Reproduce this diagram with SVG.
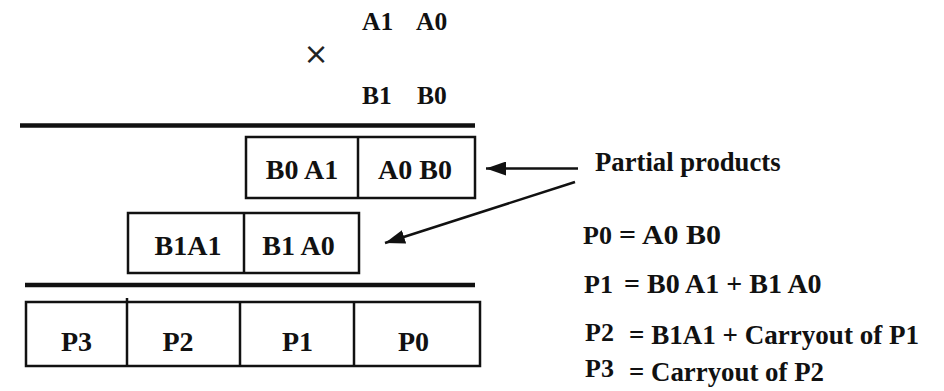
<svg xmlns="http://www.w3.org/2000/svg" width="944" height="391" viewBox="0 0 944 391">
<defs>
<style>
.t{font-family:"Liberation Serif","Times New Roman",serif;font-weight:bold;font-size:28px;fill:#111}
.op{font-size:25.5px}
.eq{font-size:27px}
.lab{font-size:26px}
.box{fill:#fff;stroke:#111;stroke-width:2.5}
.div{stroke:#111;stroke-width:2.5}
.rule{stroke:#111;stroke-width:4.5}
.conn{stroke:#111;stroke-width:2.5;fill:none}
</style>
<marker id="ah" markerUnits="userSpaceOnUse" markerWidth="22" markerHeight="14" refX="20" refY="7" orient="auto">
<path d="M0,0 L20,7 L0,14 Z" fill="#111"/>
</marker>
</defs>
<rect width="944" height="391" fill="#fff"/>
<g id="operands">
<text class="t op" x="362" y="30">A1</text>
<text class="t op" x="416" y="30">A0</text>
<text x="316" y="64" text-anchor="middle" style="font-family:'DejaVu Sans',sans-serif;font-size:30px;fill:#222">×</text>
<text class="t op" x="362" y="104">B1</text>
<text class="t op" x="417" y="104">B0</text>
</g>
<g id="rules">
<line class="rule" x1="20" y1="125.5" x2="475" y2="125.5"/>
<line class="rule" x1="25" y1="285" x2="475" y2="285"/>
</g>
<g id="row1">
<rect class="box" x="246" y="137" width="229" height="61"/>
<line class="div" x1="358" y1="137" x2="358" y2="198"/>
<text class="t" x="302" y="179" text-anchor="middle">B0 A1</text>
<text class="t" x="415" y="179" text-anchor="middle">A0 B0</text>
</g>
<g id="row2">
<rect class="box" x="128" y="213" width="231" height="60"/>
<line class="div" x1="244" y1="213" x2="244" y2="274"/>
<text class="t" x="188" y="255" text-anchor="middle">B1A1</text>
<text class="t" x="298.5" y="255" text-anchor="middle">B1 A0</text>
</g>
<g id="result">
<rect class="box" x="26" y="302" width="454" height="64"/>
<line class="div" x1="127" y1="298" x2="127" y2="366"/>
<line class="div" x1="240" y1="302" x2="240" y2="366"/>
<line class="div" x1="354" y1="302" x2="354" y2="366"/>
<text class="t" x="76.5" y="351" text-anchor="middle">P3</text>
<text class="t" x="178" y="351" text-anchor="middle">P2</text>
<text class="t" x="297.5" y="351" text-anchor="middle">P1</text>
<text class="t" x="413.5" y="351" text-anchor="middle">P0</text>
</g>
<g id="label">
<text class="t" x="595" y="171" style="font-size:26.7px">Partial products</text>
</g>
<g id="connectors">
<line class="conn" x1="578" y1="168.5" x2="486" y2="168.5" marker-end="url(#ah)"/>
<line class="conn" x1="575" y1="182" x2="385" y2="243" marker-end="url(#ah)"/>
</g>
<g id="equations">
<text class="t lab" x="583" y="244">P0</text><text class="t eq" x="619" y="244" textLength="102" lengthAdjust="spacingAndGlyphs">= A0 B0</text>
<text class="t lab" x="584" y="293">P1</text><text class="t eq" x="624" y="293" style="font-size:28px">= B0 A1 + B1 A0</text>
<text class="t lab" x="585" y="341">P2</text><text class="t eq" x="629" y="344" textLength="290" lengthAdjust="spacingAndGlyphs">= B1A1 + Carryout of P1</text>
<text class="t lab" x="585" y="377">P3</text><text class="t eq" x="629" y="381" textLength="195" lengthAdjust="spacingAndGlyphs">= Carryout of P2</text>
</g>
</svg>
